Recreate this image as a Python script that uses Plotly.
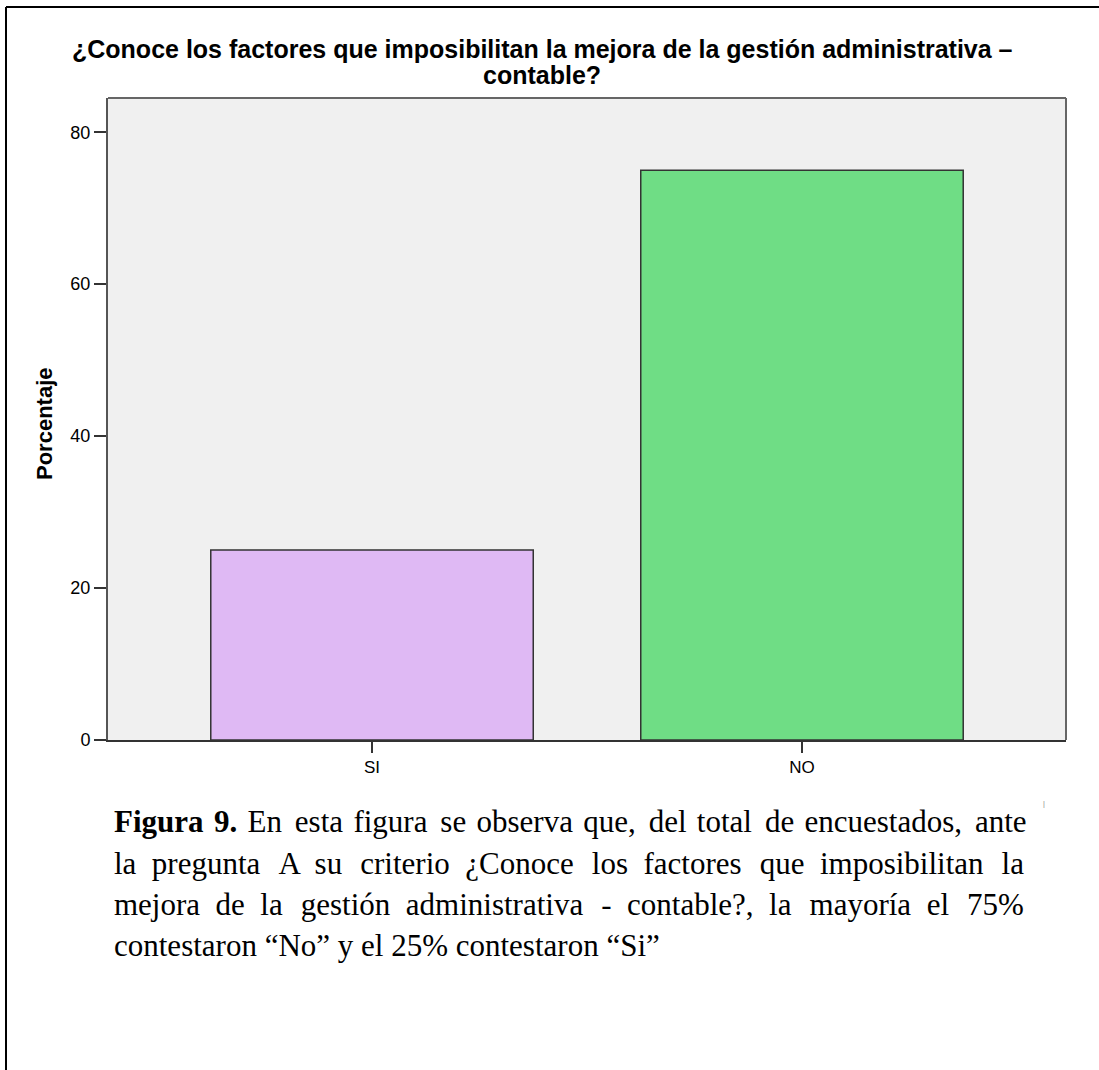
import plotly.graph_objects as go

categorias = ["SI", "NO"]
porcentajes = [25, 75]
colores = ["#dfb9f4", "#6fdd85"]
ticks_y = [0, 20, 40, 60, 80]

titulo = [
    "¿Conoce los factores que imposibilitan la mejora de la gestión administrativa –",
    "contable?",
]
leyenda = [
    "<b>Figura 9.</b> En esta figura se observa que, del total de encuestados, ante",
    "la pregunta A su criterio ¿Conoce los factores que imposibilitan la",
    "mejora de la gestión administrativa - contable?, la mayoría el 75%",
    "contestaron “No” y el 25% contestaron “Si”",
]

NB = "\u00a0"
HS = "\u200a"
# relleno por hueco para simular el texto justificado: (base, nº de huecos con espacio fino extra)
relleno = [(HS, 5), (NB, 5), (NB, 4), ("", 0)]

W, H = 1099, 1070
L, R, T, B = 108, 33, 98, 330
pw, ph = W - L - R, H - T - B


def px_x(x):
    return (x - L) / pw


def px_y(y):
    return (H - B - y) / ph


def justificar(linea, base, n_extra):
    palabras = linea.split(" ")
    huecos = len(palabras) - 1
    out = palabras[0]
    for i, p in enumerate(palabras[1:]):
        extra = HS if (i * n_extra) // huecos != ((i + 1) * n_extra) // huecos else ""
        out += " " + base + extra + p
    return out


fig = go.Figure()
fig.add_trace(
    go.Bar(
        x=[0, 1],
        y=porcentajes,
        width=0.75,
        marker=dict(color=colores, line=dict(color="#333333", width=1.5)),
    )
)

fig.update_layout(
    width=W,
    height=H,
    margin=dict(l=L, r=R, t=T, b=B),
    paper_bgcolor="white",
    plot_bgcolor="#f0f0f0",
    showlegend=False,
    font=dict(family="Liberation Sans, Arial, sans-serif", color="black"),
)

fig.update_xaxes(
    range=[-0.614, 1.614],
    tickvals=[0, 1],
    ticktext=categorias,
    ticks="outside",
    ticklen=11,
    tickwidth=2,
    tickcolor="#333333",
    showline=True,
    linecolor="#333333",
    linewidth=2,
    showgrid=False,
    zeroline=False,
    tickfont=dict(size=17),
)
fig.update_yaxes(
    range=[0, 84.5],
    tickvals=ticks_y,
    ticks="outside",
    ticklen=12,
    tickwidth=2,
    tickcolor="#333333",
    showline=True,
    linecolor="#555555",
    linewidth=2,
    showgrid=False,
    zeroline=False,
    tickfont=dict(size=18),
)

# marco superior y derecho del área de trazado
fig.add_shape(type="line", xref="paper", yref="paper", x0=0, x1=1, y0=1, y1=1,
              line=dict(color="#666666", width=2))
fig.add_shape(type="line", xref="paper", yref="paper", x0=1, x1=1, y0=0, y1=1,
              line=dict(color="#666666", width=2))

# borde de la página
fig.add_shape(type="line", xref="paper", yref="paper", x0=px_x(6), x1=px_x(6),
              y0=px_y(7), y1=px_y(H + 5), line=dict(color="black", width=2))
fig.add_shape(type="line", xref="paper", yref="paper", x0=px_x(6), x1=px_x(W + 5),
              y0=px_y(7), y1=px_y(7), line=dict(color="black", width=2))

# título en dos líneas
for i, linea in enumerate(titulo):
    fig.add_annotation(
        text="<b>" + linea + "</b>",
        xref="paper", yref="paper",
        x=px_x(542), y=px_y(49 + 26 * i),
        xanchor="center", yanchor="middle",
        showarrow=False,
        font=dict(size=25, color="black"),
    )

# título del eje Y
fig.add_annotation(
    text="<b>Porcentaje</b>",
    xref="paper", yref="paper",
    x=px_x(45), y=px_y(424),
    xanchor="center", yanchor="middle",
    textangle=-90,
    showarrow=False,
    font=dict(size=22, color="black"),
)

for i, linea in enumerate(leyenda):
    base, n_extra = relleno[i]
    fig.add_annotation(
        text=justificar(linea, base, n_extra),
        xref="paper", yref="paper",
        x=px_x(112), y=px_y(822 + 41 * i),
        xanchor="left", yanchor="middle",
        showarrow=False,
        font=dict(family="Liberation Serif, Times New Roman, serif", size=31, color="black"),
    )

# pequeña marca junto al texto
fig.add_annotation(text="ˡ", xref="paper", yref="paper", x=px_x(1047), y=px_y(816),
                   showarrow=False, font=dict(size=12, color="#999999"))

fig.write_html(
    "out.html",
    config={"displayModeBar": False},
    post_script="document.body.style.margin = '0';",
)
